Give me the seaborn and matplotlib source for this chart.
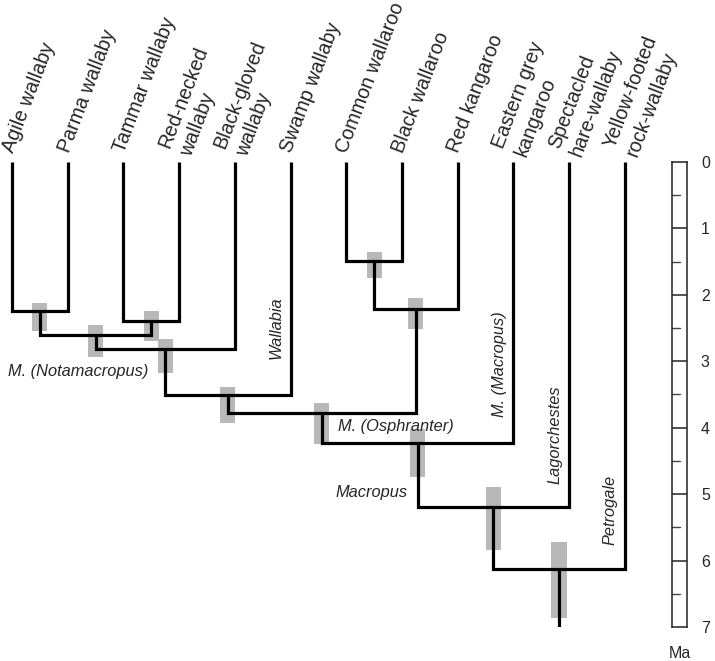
import numpy as np
import pandas as pd
import matplotlib.pyplot as plt
import seaborn as sns

# leaves, left to right
leaves = ["Agile wallaby", "Parma wallaby", "Tammar wallaby", "Red-necked\nwallaby",
          "Black-gloved\nwallaby", "Swamp wallaby", "Common wallaroo", "Black wallaroo",
          "Red kangaroo", "Eastern grey\nkangaroo", "Spectacled\nhare-wallaby",
          "Yellow-footed\nrock-wallaby"]

# internal nodes: children are leaf indices or earlier node names
node_names = ["n1", "n2", "n3", "n4", "n5", "n6", "n7", "n8", "n9", "n10", "n11"]
node_left = [0, 2, "n1", "n3", "n4", 6, "n6", "n5", "n8", "n9", "n10"]
node_right = [1, 3, "n2", 4, 5, 7, 8, "n7", 9, 10, 11]
node_age = [2.25, 2.39, 2.61, 2.81, 3.51, 1.49, 2.21, 3.78, 4.23, 5.20, 6.13]
ci_lo = [2.13, 2.25, 2.46, 2.67, 3.39, 1.35, 2.04, 3.63, 4.02, 4.89, 5.72]
ci_hi = [2.55, 2.69, 2.93, 3.17, 3.93, 1.74, 2.52, 4.25, 4.74, 5.84, 6.86]
root_age = 7.0

clade_names = ["M. (Notamacropus)", "Wallabia", "M. (Osphranter)", "M. (Macropus)",
               "Lagorchestes", "Petrogale", "Macropus"]
clade_x = [1.18, 4.74, 6.90, 8.76, 9.75, 10.74, 6.45]
clade_t = [3.15, 2.49, 3.98, 3.05, 4.10, 5.24, 4.97]
clade_rot = [0, 90, 0, 90, 90, 90, 0]

scale_ticks = list(range(8))

sns.set_style("white")
plt.rcParams['font.family'] = ['Liberation Sans', 'DejaVu Sans']

# tree layout
xpos = {i: float(i) for i in range(len(leaves))}
age = {i: 0.0 for i in range(len(leaves))}
rows = []
for k, (name, a, b, t) in enumerate(zip(node_names, node_left, node_right, node_age)):
    xpos[name] = (xpos[a] + xpos[b]) / 2
    age[name] = t
    rows += [(k, xpos[a], age[a]), (k, xpos[a], t), (k, xpos[b], t), (k, xpos[b], age[b])]
root = node_names[-1]
rows += [(len(node_names), xpos[root], age[root]), (len(node_names), xpos[root], root_age)]
df = pd.DataFrame(rows, columns=["seg", "x", "t"])

fig = plt.figure(figsize=(7.15, 6.61), dpi=100)
W, H = 715, 661
ax = fig.add_axes([0, 34 / H, 1, 465 / H])

ci_x = [xpos[n] for n in node_names]
ax.bar(ci_x, np.array(ci_hi) - np.array(ci_lo), bottom=ci_lo, width=0.27,
       color="#b8b8b8", zorder=1, linewidth=0)
sns.lineplot(data=df, x="x", y="t", units="seg", estimator=None, sort=False,
             color="black", lw=2.3, ax=ax, legend=False,
             solid_joinstyle="miter", solid_capstyle="butt", zorder=3)

ax.set_xlim(-12 / 55.7, (W - 12) / 55.7)
ax.set_ylim(7, 0)
ax.axis("off")

for i, lab in enumerate(leaves):
    off = (11.5, 2.0) if "\n" in lab else (3.5, 5.0)
    ax.annotate(lab, (i, 0), xytext=off, textcoords="offset points",
                rotation=69, rotation_mode="anchor", ha="left", va="bottom",
                fontsize=14.2, linespacing=1.3, annotation_clip=False)

for name, x, t, r in zip(clade_names, clade_x, clade_t, clade_rot):
    ax.text(x, t, name, rotation=r, ha="center", va="center",
            fontsize=11.8, style="italic")

# time scale bar
sax = fig.add_axes([672 / W, 34 / H, 15 / W, 465 / H])
sax.set_xlim(0, 1)
sax.set_ylim(7, 0)
sax.set_xticks([])
sax.set_yticks(scale_ticks)
sax.yaxis.tick_right()
sax.tick_params(axis="y", length=0, pad=10, labelsize=11.5)
for s in sax.spines.values():
    s.set_visible(True)
    s.set_color("#222222")
    s.set_linewidth(1.1)
for v in scale_ticks[1:-1]:
    sax.axhline(v, color="#222222", lw=1.1)
for v in np.array(scale_ticks[:-1]) + 0.5:
    sax.axhline(v, xmin=0, xmax=0.5, color="#444444", lw=1)
sax.text(0.5, -0.04, "Ma", transform=sax.transAxes, ha="center", va="top", fontsize=11.5)

fig.savefig("out.png", dpi=100)
